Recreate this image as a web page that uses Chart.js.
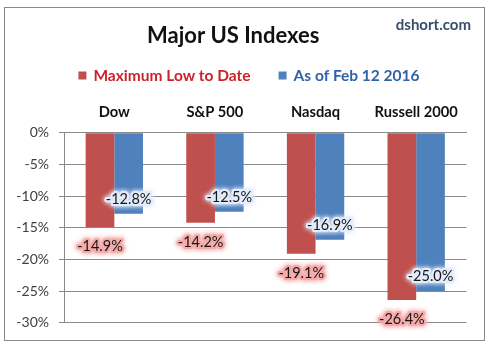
<!DOCTYPE html>
<html><head><meta charset="utf-8">
<script src="https://cdn.jsdelivr.net/npm/chart.js@4/dist/chart.umd.min.js"></script>
<style>html,body{margin:0;padding:0;background:#fff;overflow:hidden;}</style>
</head><body>
<canvas id="c" width="491" height="351"></canvas>
<script>
const categories = ['Dow', 'S&P 500', 'Nasdaq', 'Russell 2000'];
const maxLowToDate = [-14.9, -14.2, -19.1, -26.4];
const asOfFeb12 = [-12.8, -12.5, -16.9, -25.0];
const seriesNames = ['Maximum Low to Date', 'As of Feb 12 2016'];
const chartTitle = 'Major US Indexes';
const sourceText = 'dshort.com';
const yMin = -30, yMax = 0, yStep = 5;

const FONT = 'Lato, "Open Sans", sans-serif';
const RED = '#C0504D', BLUE = '#4F81BD';
const legendTextColors = ['#CC2229', '#2F63A8'];

const framePlugin = {
  id: 'frame',
  beforeDraw(chart) {
    const ctx = chart.ctx;
    ctx.save();
    ctx.fillStyle = '#fff';
    ctx.fillRect(0, 0, chart.width, chart.height);
    ctx.strokeStyle = '#8a8a8a';
    ctx.lineWidth = 1;
    ctx.strokeRect(4.5, 7.5, 480, 333);
    ctx.restore();
  },
  afterDraw(chart) {
    const ctx = chart.ctx;
    ctx.save();
    ctx.font = 'bold 15px ' + FONT;
    ctx.fillStyle = '#3A4C6C';
    ctx.textAlign = 'right';
    ctx.textBaseline = 'middle';
    ctx.fillText(sourceText, 471, 25);
    ctx.font = 'bold 15.5px ' + FONT;
    ctx.textAlign = 'left';
    const y = 76;
    const box = 8, gap = 7, between = 28;
    const w0 = ctx.measureText(seriesNames[0]).width;
    const w1 = ctx.measureText(seriesNames[1]).width;
    const total = box + gap + w0 + between + box + gap + w1;
    let x = 249 - total / 2;
    chart.data.datasets.forEach((ds, i) => {
      ctx.fillStyle = ds.backgroundColor;
      ctx.fillRect(x, y - 4.5, box, box);
      x += box + gap;
      ctx.fillStyle = legendTextColors[i];
      ctx.fillText(ds.label, x, y);
      x += (i === 0 ? w0 : w1) + between;
    });
    ctx.restore();
  },
  afterDatasetsDraw(chart) {
    const ctx = chart.ctx;
    ctx.save();
    ctx.font = '14.5px ' + FONT;
    ctx.textAlign = 'center';
    ctx.textBaseline = 'middle';
    chart.data.datasets.forEach((ds, di) => {
      const meta = chart.getDatasetMeta(di);
      meta.data.forEach((bar, i) => {
        const v = ds.data[i];
        const txt = v.toFixed(1) + '%';
        const tx = bar.x;
        const ty = di === 0 ? bar.y + 19.5 : bar.y - 14.5;
        const glow = di === 0 ? 'rgba(245,170,170,0.95)' : 'rgba(225,236,250,0.98)';
        ctx.shadowColor = glow;
        ctx.shadowBlur = 5;
        ctx.strokeStyle = glow;
        ctx.lineWidth = 4;
        ctx.lineJoin = 'round';
        for (let k = 0; k < 2; k++) ctx.strokeText(txt, tx, ty);
        ctx.shadowBlur = 0;
        ctx.shadowColor = 'transparent';
        ctx.fillStyle = '#161616';
        ctx.fillText(txt, tx, ty);
      });
    });
    ctx.restore();
  }
};

new Chart(document.getElementById('c'), {
  type: 'bar',
  data: {
    labels: categories,
    datasets: [
      { label: seriesNames[0], data: maxLowToDate, backgroundColor: RED, borderWidth: 0 },
      { label: seriesNames[1], data: asOfFeb12, backgroundColor: BLUE, borderWidth: 0 }
    ]
  },
  options: {
    responsive: false,
    animation: false,
    devicePixelRatio: 1,
    layout: { padding: { left: 0, right: 24.5, top: 0, bottom: 28.3 } },
    datasets: { bar: { categoryPercentage: 0.57, barPercentage: 1 } },
    plugins: {
      legend: { display: false },
      tooltip: { enabled: false },
      title: {
        display: true, text: chartTitle, color: '#111',
        font: { family: FONT, size: 22, weight: 'bold' },
        padding: { top: 22.8, bottom: 0 }
      }
    },
    scales: {
      x: {
        position: 'top',
        grid: { display: false, drawTicks: false },
        border: { display: true, color: '#8a8a8a' },
        ticks: { color: '#111', padding: 12, font: { family: FONT, size: 14.7, weight: 'bold' } },
        afterFit(s) { s.height = 83.5; }
      },
      y: {
        min: yMin, max: yMax,
        grid: { color: '#8a8a8a', tickLength: 5, drawTicks: true },
        border: { display: true, color: '#8a8a8a' },
        ticks: { stepSize: yStep, color: '#404040', padding: 10,
          font: { family: FONT, size: 14 },
          callback: v => v + '%' },
        afterFit(s) { s.width = 64; }
      }
    }
  },
  plugins: [framePlugin]
});
</script>
</body></html>
